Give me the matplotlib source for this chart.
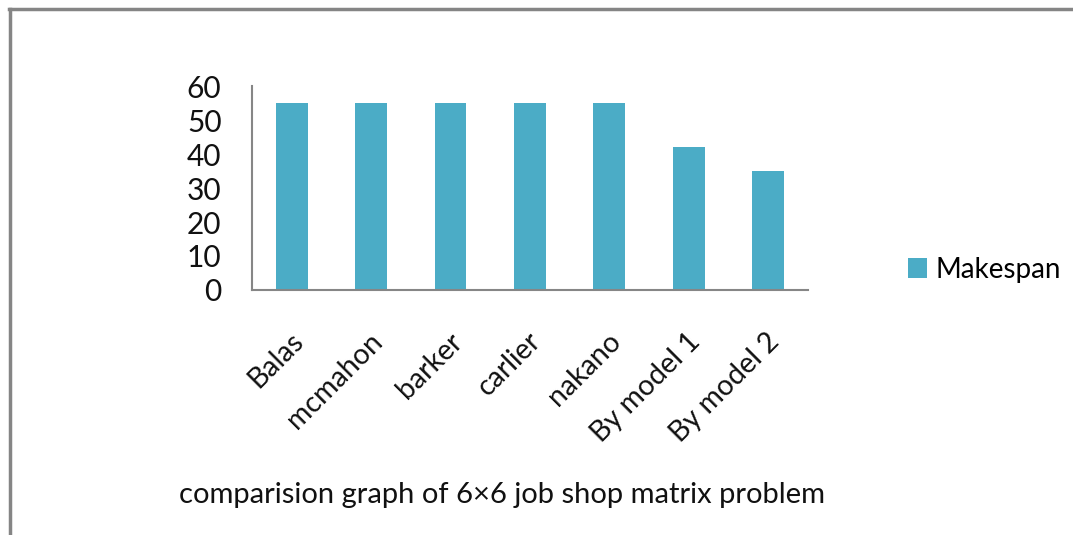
import matplotlib.pyplot as plt
from matplotlib.lines import Line2D
import matplotlib.transforms as mtransforms

plt.rcParams['font.family'] = ['Lato', 'DejaVu Sans']

methods = ['Balas', 'mcmahon', 'barker', 'carlier', 'nakano', 'By model 1', 'By model 2']
makespan = [55, 55, 55, 55, 55, 42, 35]
yticks = [0, 10, 20, 30, 40, 50, 60]

bar_color = '#4BACC6'
axis_color = '#868686'

fig = plt.figure(figsize=(10.73, 5.35), dpi=100)
ax = fig.add_axes([0.2349, 0.458, 0.518, 0.381])

x = range(len(methods))
ax.bar(x, makespan, width=0.4, color=bar_color, label='Makespan')
ax.set_xlim(-0.5, len(methods) - 0.5)
ax.set_ylim(0, 60)
ax.set_yticks(yticks)
ax.set_yticklabels([str(v) for v in yticks], fontsize=21.5, color='#111111')
ax.tick_params(axis='y', length=0, pad=22)
ax.tick_params(axis='x', length=0, pad=0)
ax.set_xticks(list(x))
ax.set_xticklabels(methods, rotation=45, ha='right', va='top',
                   rotation_mode='anchor', fontsize=20.5, color='#111111')
offset = mtransforms.ScaledTranslation(-2 / 100, -38 / 100, fig.dpi_scale_trans)
for lab in ax.get_xticklabels():
    lab.set_transform(lab.get_transform() + offset)

for s in ['top', 'right']:
    ax.spines[s].set_visible(False)
for s in ['left', 'bottom']:
    ax.spines[s].set_color(axis_color)
    ax.spines[s].set_linewidth(1.5)

ax.legend(loc='center left', bbox_to_anchor=(1.135, 0.1), frameon=False,
          fontsize=20, handlelength=0.7, handleheight=0.7, handletextpad=0.3)

fig.text(0.468, 0.075, 'comparision graph of 6\u00d76 job shop matrix problem',
         ha='center', va='center', fontsize=21, color='#111111')

# outer frame of the figure box
fig.add_artist(Line2D([9 / 1073, 1], [1 - 8.5 / 535, 1 - 8.5 / 535],
                      transform=fig.transFigure, color='#858585', lw=2.5))
fig.add_artist(Line2D([9.5 / 1073, 9.5 / 1073], [0, 1 - 8.5 / 535],
                      transform=fig.transFigure, color='#858585', lw=2.5))

fig.savefig('out.png', dpi=100)
